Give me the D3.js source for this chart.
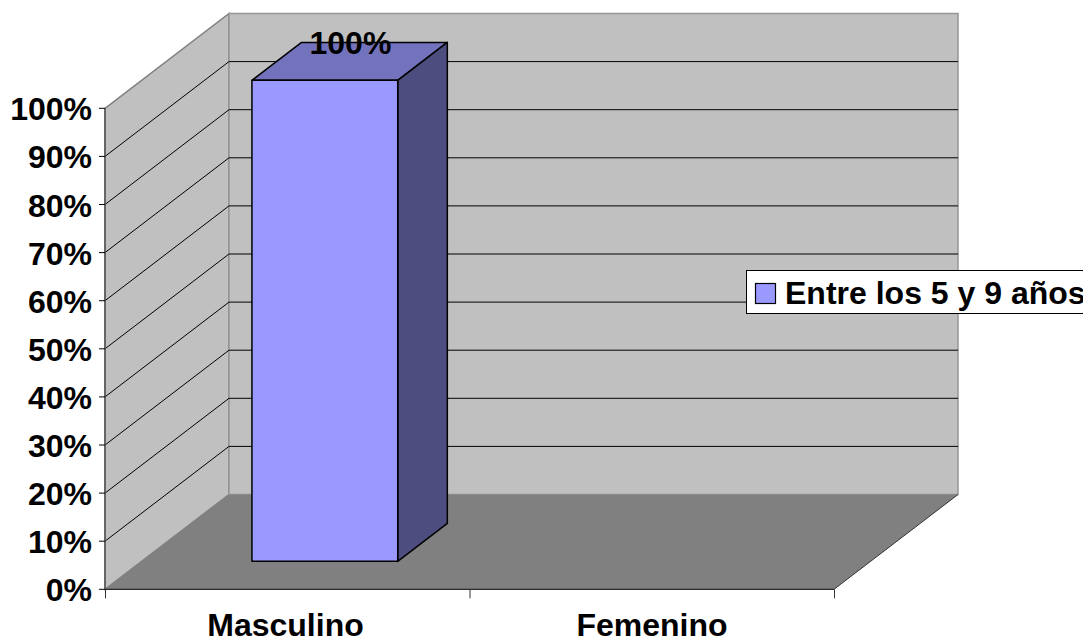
<!DOCTYPE html>
<html><head><meta charset="utf-8">
<style>html,body{margin:0;padding:0;background:#fff;overflow:hidden}svg{display:block}text{font-family:"Liberation Sans",Arial,sans-serif;font-weight:bold;fill:#000}</style>
<script src="https://cdnjs.cloudflare.com/ajax/libs/d3/7.8.5/d3.min.js"></script>
</head><body><svg id="c" width="1083" height="638"></svg>
<script>
const categories = ["Masculino", "Femenino"];
const seriesName = "Entre los 5 y 9 años";
const values = [100, null];
const dataLabels = ["100%", ""];
const yTicks = [0,10,20,30,40,50,60,70,80,90,100];

const svg = d3.select("#c");
const x = d3.scaleBand().domain(categories).range([105,834]).paddingInner(0).paddingOuter(0);
const xLabel = d3.scalePoint().domain(categories).range([285.5,652]);
const y = d3.scaleLinear().domain([0,100]).range([589.3,108.3]);
const zx = d3.scaleLinear().domain([0,1]).range([0,124]);
const zy = d3.scaleLinear().domain([0,1]).range([0,-94.8]);
const P = (px,v,z)=>[px+zx(z), y(v)+zy(z)];
const path = pts => "M"+pts.map(p=>p.join(",")).join("L")+"Z";
const [x0,x1] = x.range();

// walls
svg.append("path").attr("d",path([P(x0,0,0),P(x0,100,0),P(x0,100,1),P(x0,0,1)])).attr("fill","#c0c0c0").attr("stroke","#808080").attr("stroke-width",1.5);
svg.append("path").attr("d",path([P(x0,0,1),P(x0,100,1),P(x1,100,1),P(x1,0,1)])).attr("fill","#c0c0c0").attr("stroke","#969696").attr("stroke-width",1.5);
// floor
svg.append("path").attr("d",path([P(x0,0,0),P(x0,0,1),P(x1,0,1),P(x1,0,0)])).attr("fill","#808080");
svg.append("line").attr("x1",P(x1,0,0)[0]).attr("y1",P(x1,0,0)[1]).attr("x2",P(x1,0,1)[0]).attr("y2",P(x1,0,1)[1]).attr("stroke","#333").attr("stroke-width",1);

// gridlines
const grid = yTicks.filter(t=>t>0&&t<100);
const g = svg.append("g").attr("fill","none").attr("stroke","#000").attr("stroke-width",1);
g.selectAll(".a").data(grid).enter().append("path")
  .attr("d",t=> d3.line()([P(x0,t,0),P(x0,t,1),P(x1,t,1)]));

// axes
const axisG = svg.append("g");
axisG.append("line").attr("x1",x0).attr("x2",x0).attr("y1",y(100)).attr("y2",y(0)).attr("stroke","#555").attr("stroke-width",1.5);
axisG.append("line").attr("x1",x0).attr("x2",x1).attr("y1",y(0)).attr("y2",y(0)).attr("stroke","#000").attr("stroke-width",1);
axisG.selectAll(".yt").data(yTicks).enter().append("line").attr("x1",x0-6).attr("x2",x0).attr("y1",d=>y(d)).attr("y2",d=>y(d)).attr("stroke","#000");
axisG.selectAll(".xt").data([x0,x0+x.bandwidth(),x1]).enter().append("line").attr("x1",d=>d+.5).attr("x2",d=>d+.5).attr("y1",y(0)).attr("y2",y(0)+9).attr("stroke","#333");
axisG.selectAll(".yl").data(yTicks).enter().append("text").attr("x",92).attr("y",d=>y(d)+12).attr("text-anchor","end").attr("font-size",32).text(d=>d+"%");
axisG.selectAll(".xl").data(categories).enter().append("text").attr("x",d=>xLabel(d)).attr("y",636).attr("text-anchor","middle").attr("font-size",32).text(d=>d);

// bars
const z0=0.295,z1=0.695,barW=0.4;
const bars = categories.map((c,i)=>({c,v:values[i],l:dataLabels[i]})).filter(d=>d.v!=null);
const bg = svg.append("g").attr("stroke","#000").attr("stroke-width",1.5).attr("stroke-linejoin","round");
bars.forEach(d=>{
  const a = x(d.c)+x.bandwidth()*(1-barW)/2+1, b = a+x.bandwidth()*barW;
  bg.append("path").attr("d",path([P(a,d.v,z0),P(a,d.v,z1),P(b,d.v,z1),P(b,d.v,z0)])).attr("fill","#7373bd");
  bg.append("path").attr("d",path([P(b,0,z0),P(b,d.v,z0),P(b,d.v,z1),P(b,0,z1)])).attr("fill","#4d4d80");
  bg.append("path").attr("d",path([P(a,0,z0),P(a,d.v,z0),P(b,d.v,z0),P(b,0,z0)])).attr("fill","#9999ff");
  const top=P((a+b)/2,d.v,z1);
  svg.append("text").attr("x",top[0]-24).attr("y",top[1]+12).attr("text-anchor","middle").attr("font-size",32).text(d.l);
});

// legend
svg.append("rect").attr("x",746.5).attr("y",270.5).attr("width",345).attr("height",43).attr("fill","#fff").attr("stroke","#000");
svg.append("rect").attr("x",755.5).attr("y",283.5).attr("width",20).attr("height",20).attr("fill","#9999ff").attr("stroke","#000").attr("stroke-width",1.2);
svg.append("text").attr("x",785).attr("y",304).attr("font-size",32).text(seriesName);
</script></body></html>
